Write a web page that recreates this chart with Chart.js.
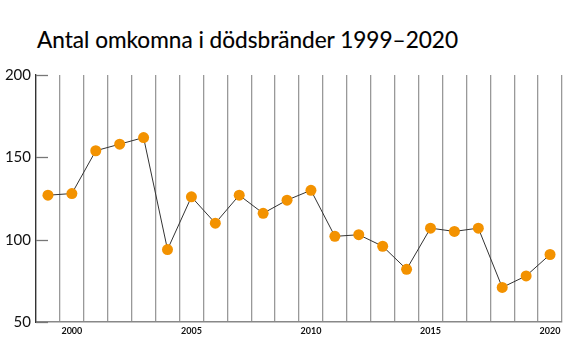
<!DOCTYPE html>
<html>
<head>
<meta charset="utf-8">
<script src="https://cdn.jsdelivr.net/npm/chart.js@4"></script>
<style>
  html, body { margin: 0; padding: 0; background: #fff; }
  #wrap { position: relative; width: 570px; height: 350px; }
  #title { position: absolute; left: 37px; top: 26px; margin: 0; font: 400 22.6px Lato, sans-serif; color: #000; white-space: nowrap; -webkit-text-stroke: 0.15px #000; }
  canvas { position: absolute; left: 0; top: 0; }
</style>
</head>
<body>
<div id="wrap">
  <h1 id="title">Antal omkomna i dödsbränder 1999–2020</h1>
  <canvas id="c" width="570" height="350"></canvas>
</div>
<script>
// Data
const years = [1999, 2000, 2001, 2002, 2003, 2004, 2005, 2006, 2007, 2008, 2009,
               2010, 2011, 2012, 2013, 2014, 2015, 2016, 2017, 2018, 2019, 2020];
const deaths = [127, 128, 154, 158, 162, 94, 126, 110, 127, 116, 124,
                130, 102, 103, 96, 82, 107, 105, 107, 71, 78, 91];
const yTicks = [50, 100, 150, 200];

// short tick marks drawn inside the plot, on the y axis
const innerTicks = {
    id: 'innerTicks',
    afterDraw(chart) {
        const ctx = chart.ctx;
        const y = chart.scales.y;
        ctx.save();
        ctx.strokeStyle = '#777';
        ctx.lineWidth = 1.3;
        yTicks.forEach(v => {
            const py = Math.round(y.getPixelForValue(v)) + 0.5;
            ctx.beginPath();
            ctx.moveTo(y.right, py);
            ctx.lineTo(y.right + 12, py);
            ctx.stroke();
        });
        ctx.restore();
    }
};

const ctx = document.getElementById('c').getContext('2d');
new Chart(ctx, {
    type: 'line',
    data: {
        labels: years.map(String),
        datasets: [{
            data: deaths,
            borderColor: '#333',
            borderWidth: 1,
            pointBackgroundColor: '#f39200',
            pointBorderColor: '#f39200',
            pointRadius: 5.5,
            pointBorderWidth: 0,
            tension: 0
        }]
    },
    options: {
        responsive: false,
        animation: false,
        layout: { padding: { top: 75, right: 8, left: 0, bottom: 0 } },
        plugins: { legend: { display: false }, tooltip: { enabled: false } },
        scales: {
            x: {
                type: 'category',
                offset: true,
                grid: {
                    offset: true,
                    drawTicks: false,
                    color: ctx => ctx.index === years.length ? '#ddd' : '#999',
                    lineWidth: 1.3
                },
                border: { display: true, color: '#888', width: 1.5 },
                ticks: {
                    autoSkip: false,
                    maxRotation: 0,
                    padding: 4,
                    color: '#111',
                    font: { family: 'Lato', size: 9, weight: 'bold' },
                    callback: function(val, i) { return years[i] % 5 === 0 ? String(years[i]) : ''; }
                },
                afterFit: s => { s.height = 28; }
            },
            y: {
                min: 50,
                max: 200,
                afterBuildTicks: s => { s.ticks = yTicks.map(v => ({ value: v })); },
                grid: { display: false, drawTicks: false },
                border: { display: true, color: '#333', width: 1.3 },
                ticks: {
                    padding: 5,
                    color: '#111',
                    font: { family: 'Lato', size: 15 }
                },
                afterFit: s => { s.width = 36; }
            }
        }
    },
    plugins: [innerTicks]
});
</script>
</body>
</html>
